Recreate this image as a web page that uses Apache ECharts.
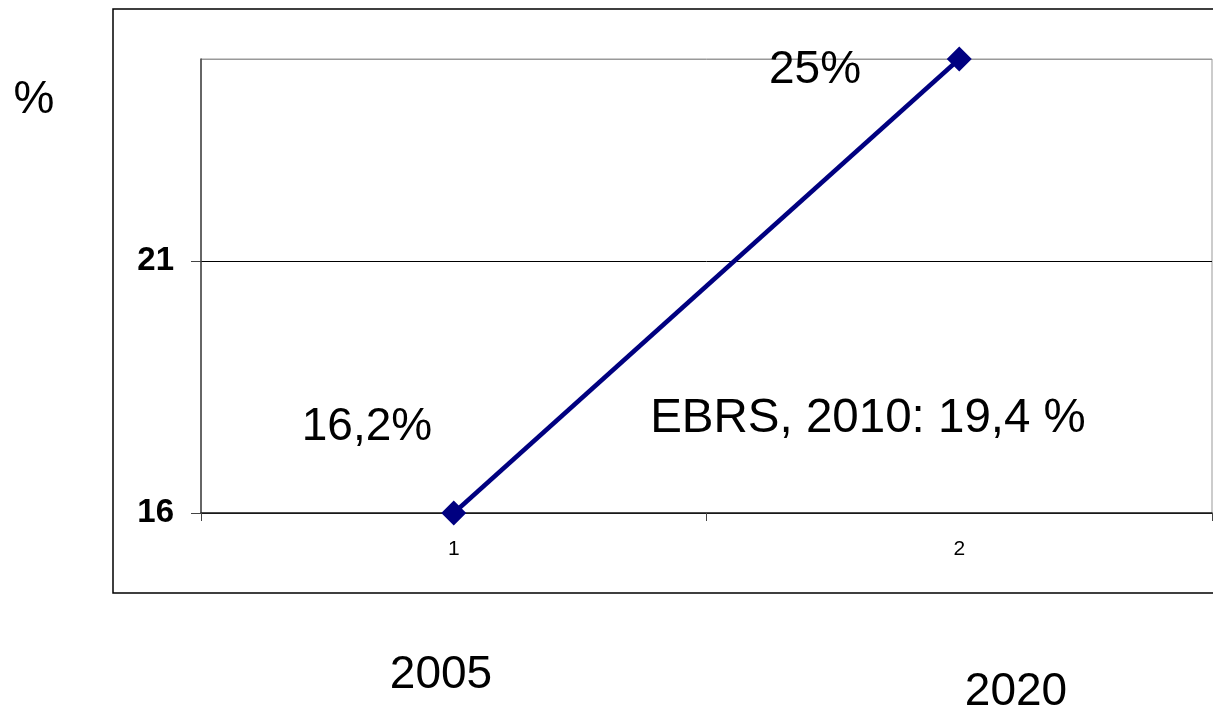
<!DOCTYPE html>
<html>
<head>
<meta charset="utf-8">
<script src="https://cdn.jsdelivr.net/npm/echarts@6/dist/echarts.min.js"></script>
<style>
  html, body { margin: 0; padding: 0; background: #ffffff; }
  #chart { width: 1213px; height: 710px; }
</style>
</head>
<body>
<div id="chart"></div>
<script>
const CATEGORIES = ["1", "2"];
const SHARE_VALUES = [16, 25];
const Y_MIN = 16;
const Y_MAX = 25;
const Y_STEP = 5;

// free text placed on the slide around the chart
const NOTE_TEXTS = ["%", "25%", "16,2%", "EBRS, 2010: 19,4 %", "2005", "2020"];

const FONT = "'Liberation Sans', Arial, sans-serif";
const LINE_COLOR = "#000080";

const chart = echarts.init(document.getElementById("chart"), null, { renderer: "canvas" });

function note(text, x, y, size) {
  return {
    type: "text",
    x,
    y,
    z: 10,
    style: {
      text,
      fill: "#000000",
      font: `${size}px ${FONT}`,
      align: "center",
      verticalAlign: "middle",
    },
  };
}

const notePlaces = [
  [34, 100, 46],
  [815, 70, 46],
  [367, 427, 46],
  [868, 419, 47.5],
  [441, 675, 46],
  [1016, 692, 46],
];

chart.setOption({
  backgroundColor: "#ffffff",
  animation: false,
  grid: {
    left: 201,
    right: 1,
    top: 59,
    bottom: 197,
    show: true,
    borderColor: "#999999",
    borderWidth: 1,
  },
  xAxis: {
    type: "category",
    data: CATEGORIES,
    boundaryGap: true,
    axisLine: { lineStyle: { color: "#222222", width: 1.5 } },
    axisTick: { show: true, length: 8, lineStyle: { color: "#444444" } },
    axisLabel: {
      color: "#000000",
      fontFamily: FONT,
      fontSize: 21,
      margin: 26,
    },
    splitLine: { show: false },
  },
  yAxis: {
    type: "value",
    min: Y_MIN,
    max: Y_MAX,
    interval: Y_STEP,
    axisLine: { show: true, lineStyle: { color: "#444444", width: 1.5 } },
    axisTick: { show: true, length: 10, lineStyle: { color: "#444444" } },
    axisLabel: {
      color: "#000000",
      fontFamily: FONT,
      fontSize: 33,
      fontWeight: "bold",
      margin: 27,
      showMaxLabel: false,
    },
    splitLine: {
      show: true,
      lineStyle: { color: ["#000000", "#000000", "#999999"], width: 1 },
    },
  },
  graphic: [
    {
      type: "rect",
      shape: { x: 113, y: 9, width: 1120, height: 584 },
      style: { fill: "none", stroke: "#000000", lineWidth: 1.5 },
      z: -1,
    },
    ...NOTE_TEXTS.map((t, i) => note(t, notePlaces[i][0], notePlaces[i][1], notePlaces[i][2])),
  ],
  series: [
    {
      type: "line",
      data: SHARE_VALUES,
      symbol: "diamond",
      symbolSize: 25,
      itemStyle: { color: LINE_COLOR },
      lineStyle: { color: LINE_COLOR, width: 4.5 },
      label: { show: false },
      z: 5,
    },
  ],
});
</script>
</body>
</html>
